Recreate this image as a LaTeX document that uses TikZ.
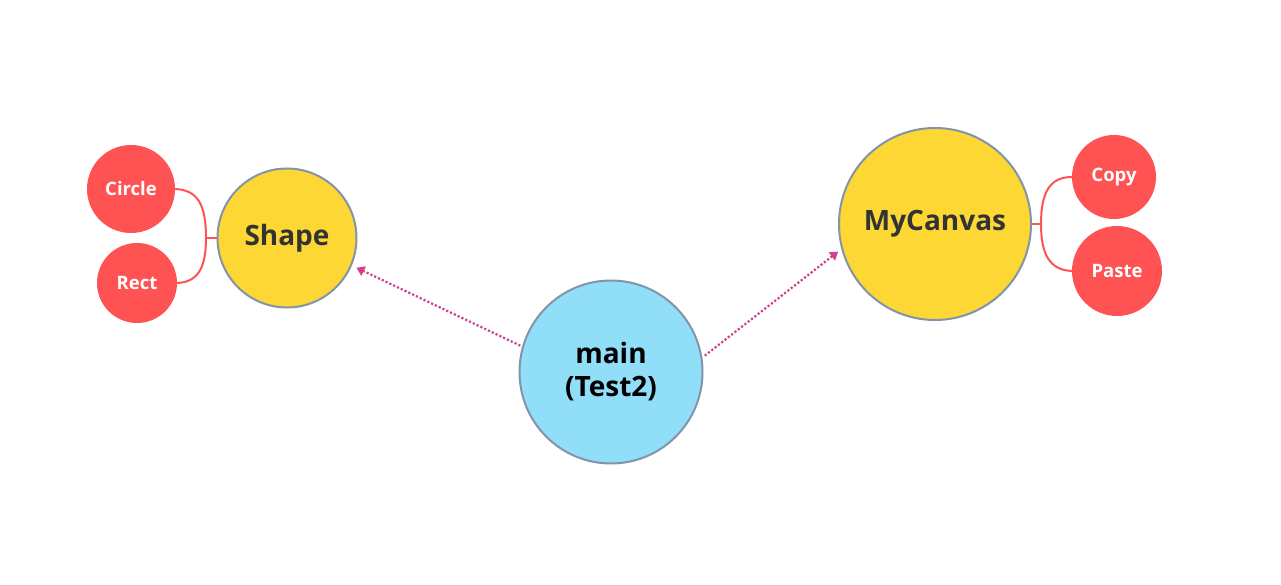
\documentclass[tikz,border=0pt]{standalone}
\usepackage{fontspec}
\setmainfont{Open Sans}
\usetikzlibrary{arrows.meta}
\definecolor{topicY}{HTML}{FDD835}
\definecolor{mainB}{HTML}{90DEF8}
\definecolor{leafR}{HTML}{FF5252}
\definecolor{rimG}{HTML}{8393AA}
\definecolor{linkM}{HTML}{D0408E}
\definecolor{txtD}{HTML}{333333}
\tikzset{
  topic/.style={circle, draw=rimG, line width=2pt, fill=topicY, inner sep=0pt,
    text=txtD, font=\bfseries\fontsize{28}{33}\selectfont, align=center},
  centre/.style={topic, fill=mainB, text=black},
  leaf/.style={circle, fill=leafR, inner sep=0pt, text=white,
    font=\bfseries\fontsize{18.5}{22}\selectfont},
  branch/.style={draw=leafR, line width=2pt},
  link/.style={draw=linkM, line width=2.2pt, dotted,
    -{Triangle[length=8pt,width=10pt]}}
}
\begin{document}
\begin{tikzpicture}[x=1pt,y=-1pt]
\useasboundingbox (0,0) rectangle (1281,585);
\node[topic, minimum size=139pt] (shape) at (287,238) {Shape};
\node[leaf, minimum size=88pt] (circ) at (131,189) {Circle};
\node[leaf, minimum size=80pt] (rect) at (137,283) {Rect};
\node[centre, minimum size=183pt] (main) at (611,372) {main\\(Test2)};
\node[topic, minimum size=192pt] (canvas) at (935,224) {MyCanvas};
\node[leaf, minimum size=84pt] (copy) at (1114,177) {Copy};
\node[leaf, minimum size=90pt] (paste) at (1117,271) {Paste};
\coordinate (lj) at (206,238);
\coordinate (rj) at (1041,224);
\draw[branch] (shape.west) -- (lj);
\draw[branch] (lj) .. controls (206,205) and (198,190) .. (circ.east);
\draw[branch] (lj) .. controls (206,268) and (198,282) .. (rect.east);
\draw[branch] (canvas.east) -- (rj);
\draw[branch] (rj) .. controls (1041,192) and (1050,177) .. (copy.west);
\draw[branch] (rj) .. controls (1041,255) and (1050,270) .. (paste.west);
\draw[link, shorten <=2pt, shorten >=5pt] (main.164.6) -- (shape.-23.5);
\draw[link, shorten <=3pt, shorten >=4pt] (main.9) -- (canvas.-165);
\end{tikzpicture}
\end{document}
